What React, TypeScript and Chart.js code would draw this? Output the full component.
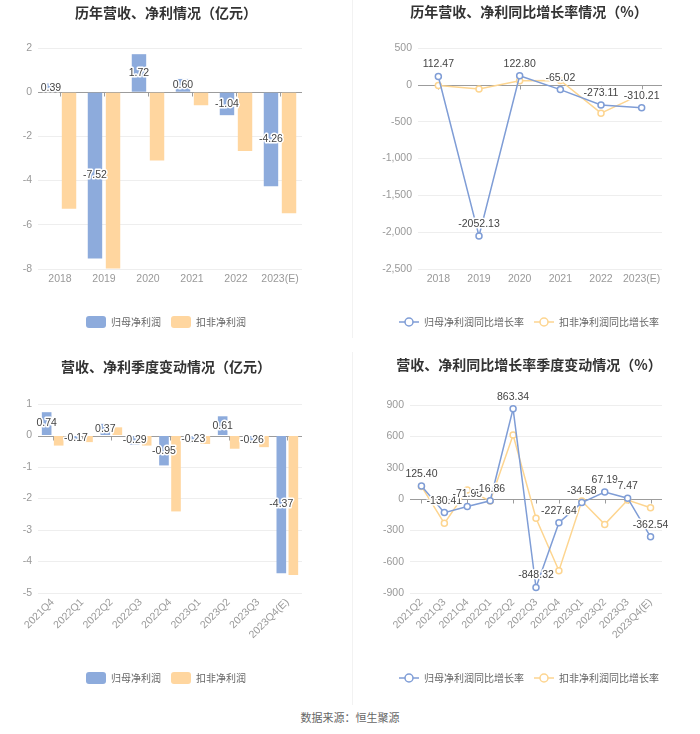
import React, { useEffect, useRef } from 'react';
import { Chart, registerables } from 'chart.js';
Chart.register(...registerables);

// ---------- data ----------
const yearCats = ['2018', '2019', '2020', '2021', '2022', '2023(E)'];
const yearParent = [0.39, -7.52, 1.72, 0.6, -1.04, -4.26];
const yearDeducted = [-5.27, -7.98, -3.09, -0.59, -2.66, -5.48];
const yearParentGrowth = [112.47, -2052.13, 122.8, -65.02, -273.11, -310.21];
const yearDeductedGrowth = [-10, -55, 55, 60, -385, -127];

const qCats = ['2021Q4', '2022Q1', '2022Q2', '2022Q3', '2022Q4', '2023Q1', '2023Q2', '2023Q3', '2023Q4(E)'];
const qParent = [0.74, -0.17, 0.37, -0.29, -0.95, -0.23, 0.61, -0.26, -4.37];
const qDeducted = [-0.32, -0.21, 0.26, -0.32, -2.41, -0.27, -0.42, -0.37, -4.43];

const gCats = ['2021Q2', '2021Q3', '2021Q4', '2022Q1', '2022Q2', '2022Q3', '2022Q4', '2023Q1', '2023Q2', '2023Q3', '2023Q4(E)'];
const gParent = [125.4, -130.41, -71.95, -16.86, 863.34, -848.32, -227.64, -34.58, 67.19, 7.47, -362.54];
const gDeducted = [120, -233, 86, -19, 613, -185, -687, -20, -243, -10, -83];

const seriesNames = ['归母净利润', '扣非净利润'];
const growthNames = ['归母净利润同比增长率', '扣非净利润同比增长率'];

// ---------- styles ----------
const BLUE_BAR = '#8dabdc';
const ORANGE_BAR = '#ffd69f';
const BLUE_LINE = '#7f9dd6';
const ORANGE_LINE = '#fdd590';
const NUM_FONT = '"Liberation Sans", "Noto Sans CJK SC", sans-serif';
const CJK_FONT = '"Noto Sans CJK SC", sans-serif';

function zeroAxisPlugin() {
  return {
    id: 'zeroAxis',
    beforeDatasetsDraw(chart: any) {
      const y = chart.scales.y;
      const x = chart.scales.x;
      const ctx = chart.ctx;
      const py = Math.round(y.getPixelForValue(0)) + 0.5;
      ctx.save();
      ctx.strokeStyle = '#9c9c9c';
      ctx.lineWidth = 1;
      ctx.beginPath();
      ctx.moveTo(chart.chartArea.left, py);
      ctx.lineTo(chart.chartArea.right, py);
      for (let i = 0; i < x.ticks.length; i++) {
        const px = Math.round(x.getPixelForTick(i)) + 0.5;
        ctx.moveTo(px, py);
        ctx.lineTo(px, py + 4);
      }
      ctx.stroke();
      ctx.restore();
    },
  };
}

function labelPlugin(mode: 'center' | 'above') {
  return {
    id: 'valueLabels',
    afterDatasetsDraw(chart: any) {
      const meta = chart.getDatasetMeta(0);
      const ds = chart.data.datasets[0];
      const ctx = chart.ctx;
      ctx.save();
      ctx.font = '10.5px ' + NUM_FONT;
      ctx.textAlign = 'center';
      ctx.textBaseline = 'middle';
      ctx.lineJoin = 'round';
      ctx.lineWidth = 3;
      ctx.strokeStyle = '#ffffff';
      ctx.fillStyle = '#444444';
      meta.data.forEach((el: any, i: number) => {
        const v = ds.data[i] as number;
        const text = v.toFixed(2);
        const p = el.getProps(['x', 'y', 'base'], true);
        const y = mode === 'center' ? (p.y + p.base) / 2 : p.y - 12;
        ctx.strokeText(text, p.x, y);
        ctx.fillText(text, p.x, y);
      });
      ctx.restore();
    },
  };
}

function lineIcon(color: string) {
  const c = document.createElement('canvas');
  c.width = 20;
  c.height = 12;
  const g = c.getContext('2d')!;
  g.strokeStyle = color;
  g.lineWidth = 1.5;
  g.beginPath();
  g.moveTo(0, 6);
  g.lineTo(20, 6);
  g.stroke();
  g.beginPath();
  g.arc(10, 6, 4, 0, Math.PI * 2);
  g.fillStyle = '#fff';
  g.fill();
  g.stroke();
  return c;
}

type Layout = {
  title: string;
  titleTop: number;
  titleBottom: number;
  padL: number;
  padR: number;
  padB: number;
  yWidth: number;
  rightWidth: number;
  xHeight: number;
  rotate: boolean;
  yMin: number;
  yMax: number;
  yStep: number;
  lineLegend: boolean;
};

function buildOptions(L: Layout): any {
  const legendLabels: any = {
    color: '#666',
    font: { family: CJK_FONT, size: 10 },
    padding: 10,
    boxWidth: 20,
    boxHeight: 12,
    sort: (a: any, b: any) => a.datasetIndex - b.datasetIndex,
  };
  if (L.lineLegend) {
    const icons = [lineIcon(BLUE_LINE), lineIcon(ORANGE_LINE)];
    legendLabels.usePointStyle = true;
    legendLabels.pointStyleWidth = 20;
    legendLabels.generateLabels = (chart: any) =>
      (Chart.defaults.plugins.legend.labels as any)
        .generateLabels(chart)
        .map((l: any) => ({ ...l, pointStyle: icons[l.datasetIndex] }));
  } else {
    legendLabels.useBorderRadius = true;
    legendLabels.borderRadius = 3;
  }
  return {
    responsive: false,
    animation: false,
    locale: 'en-US',
    layout: { padding: { left: L.padL, right: L.padR, top: 0, bottom: L.padB } },
    plugins: {
      title: {
        display: true,
        text: L.title,
        color: '#333',
        font: { family: CJK_FONT, size: 14, weight: 'bold' },
        padding: { top: L.titleTop, bottom: L.titleBottom },
      },
      legend: { position: 'bottom', labels: legendLabels },
      tooltip: { enabled: false },
    },
    scales: {
      x: {
        offset: true,
        grid: { display: false, drawTicks: false },
        border: { display: false },
        ticks: {
          color: '#999',
          font: { family: NUM_FONT, size: 10.5 },
          padding: L.rotate ? 3 : 4,
          autoSkip: false,
          minRotation: L.rotate ? 45 : 0,
          maxRotation: L.rotate ? 45 : 0,
        },
        afterFit: (s: any) => {
          s.height = L.xHeight;
        },
      },
      y: {
        min: L.yMin,
        max: L.yMax,
        grid: {
          drawTicks: false,
          color: (c: any) => (c.tick && c.tick.value === 0 ? 'rgba(0,0,0,0)' : '#eeeeee'),
        },
        border: { display: false },
        ticks: {
          stepSize: L.yStep,
          color: '#999',
          padding: 6,
          font: { family: NUM_FONT, size: 10.5 },
          callback: (v: any) => Number(v).toLocaleString('en-US'),
        },
        afterFit: (s: any) => {
          s.width = L.yWidth;
        },
      },
      y2: {
        position: 'right',
        display: true,
        grid: { display: false, drawTicks: false },
        border: { display: false },
        ticks: { display: false },
        afterFit: (s: any) => {
          s.width = L.rightWidth;
        },
      },
    },
  };
}

function barConfig(cats: string[], a: number[], b: number[], L: Layout): any {
  return {
    type: 'bar',
    data: {
      labels: cats,
      datasets: [
        { label: seriesNames[0], data: a, backgroundColor: BLUE_BAR, borderWidth: 0, categoryPercentage: 0.82, barPercentage: 0.8 },
        { label: seriesNames[1], data: b, backgroundColor: ORANGE_BAR, borderWidth: 0, categoryPercentage: 0.82, barPercentage: 0.8 },
      ],
    },
    options: buildOptions(L),
    plugins: [zeroAxisPlugin(), labelPlugin('center')],
  };
}

function lineConfig(cats: string[], a: number[], b: number[], L: Layout): any {
  const mk = (label: string, data: number[], color: string) => ({
    label,
    data,
    borderColor: color,
    backgroundColor: color,
    borderWidth: 1.5,
    pointRadius: 3,
    pointBackgroundColor: '#fff',
    pointBorderColor: color,
    pointBorderWidth: 1.5,
    tension: 0,
  });
  return {
    type: 'line',
    data: {
      labels: cats,
      datasets: [mk(growthNames[0], a, BLUE_LINE), mk(growthNames[1], b, ORANGE_LINE)],
    },
    options: buildOptions(L),
    plugins: [zeroAxisPlugin(), labelPlugin('above')],
  };
}

function ChartBox({ config, left, top, width, height }: { config: () => any; left: number; top: number; width: number; height: number }) {
  const ref = useRef<HTMLCanvasElement | null>(null);
  useEffect(() => {
    if (!ref.current) return;
    const chart = new Chart(ref.current, config());
    return () => chart.destroy();
  }, []);
  return (
    <canvas
      ref={ref}
      width={width}
      height={height}
      style={{ position: 'absolute', left, top, width, height }}
    />
  );
}

export default function App() {
  useEffect(() => {
    document.body.style.margin = '0';
  }, []);
  return (
    <div style={{ position: 'absolute', left: 0, top: 0, width: 700, height: 734, background: '#fff', overflow: 'hidden' }}>
      <ChartBox
        left={0}
        top={0}
        width={350}
        height={350}
        config={() =>
          barConfig(yearCats, yearParent, yearDeducted, {
            title: '历年营收、净利情况（亿元）',
            titleTop: 4.3, titleBottom: 26.9,
            padL: 0, padR: 18, padB: 12,
            yWidth: 38, rightWidth: 30, xHeight: 37, rotate: false,
            yMin: -8, yMax: 2, yStep: 2, lineLegend: false,
          })
        }
      />
      <ChartBox
        left={350}
        top={0}
        width={350}
        height={350}
        config={() =>
          lineConfig(yearCats, yearParentGrowth, yearDeductedGrowth, {
            title: '历年营收、净利同比增长率情况（%）',
            titleTop: 3.3, titleBottom: 27.9,
            padL: 8, padR: 0, padB: 13,
            yWidth: 60, rightWidth: 38, xHeight: 38, rotate: false,
            yMin: -2500, yMax: 500, yStep: 500, lineLegend: true,
          })
        }
      />
      <ChartBox
        left={0}
        top={350}
        width={350}
        height={355}
        config={() =>
          barConfig(qCats, qParent, qDeducted, {
            title: '营收、净利季度变动情况（亿元）',
            titleTop: 8.3, titleBottom: 28.9,
            padL: 0, padR: 18, padB: 11,
            yWidth: 38, rightWidth: 30, xHeight: 69, rotate: true,
            yMin: -5, yMax: 1, yStep: 1, lineLegend: false,
          })
        }
      />
      <ChartBox
        left={350}
        top={350}
        width={350}
        height={355}
        config={() =>
          lineConfig(gCats, gParent, gDeducted, {
            title: '营收、净利同比增长率季度变动情况（%）',
            titleTop: 6.6, titleBottom: 31.6,
            padL: 8, padR: 0, padB: 12,
            yWidth: 52, rightWidth: 38, xHeight: 70, rotate: true,
            yMin: -900, yMax: 900, yStep: 300, lineLegend: true,
          })
        }
      />
      <div style={{ position: 'absolute', left: 352, top: 0, width: 1, height: 338, background: '#f2f2f2' }} />
      <div style={{ position: 'absolute', left: 352, top: 352, width: 1, height: 353, background: '#f2f2f2' }} />
      <div
        style={{
          position: 'absolute',
          left: 0,
          top: 709,
          width: 700,
          textAlign: 'center',
          fontFamily: CJK_FONT,
          fontSize: 11,
          lineHeight: '16px',
          color: '#666',
        }}
      >
        数据来源：恒生聚源
      </div>
    </div>
  );
}
